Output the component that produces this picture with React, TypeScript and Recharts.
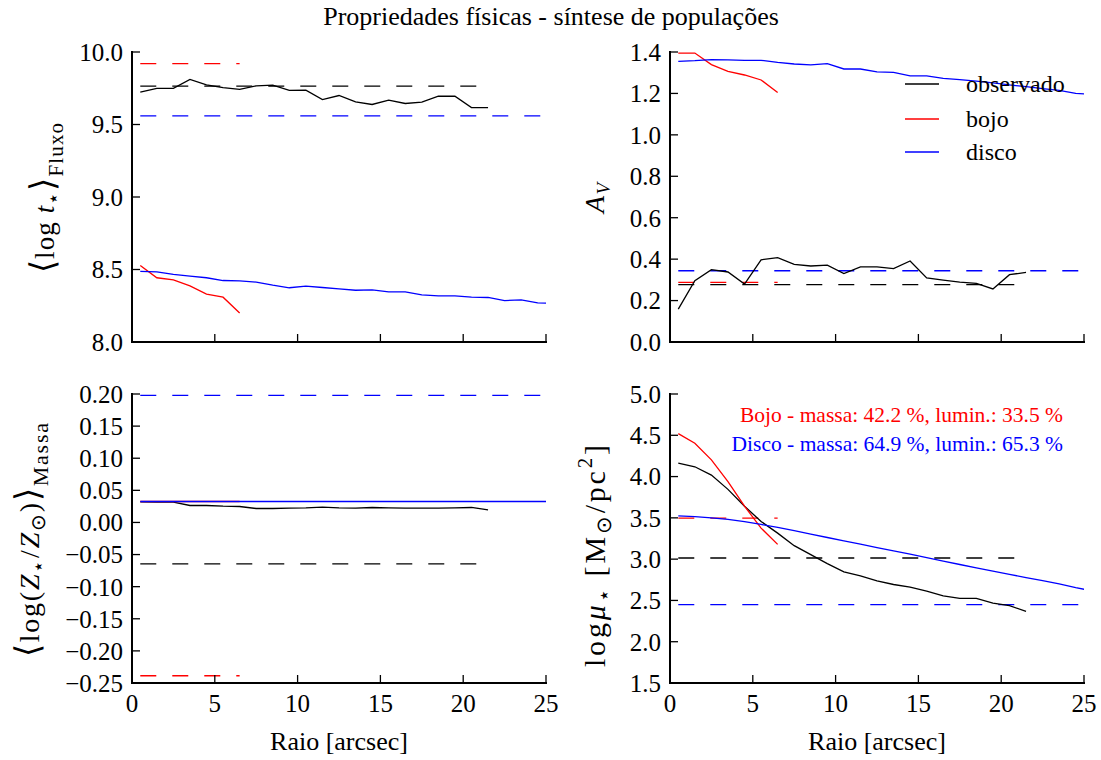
import React from 'react';
import { LineChart, Line, XAxis, YAxis, ReferenceLine } from 'recharts';

const W = 1101;
const H = 760;
const FONT = '"Liberation Serif", "Times New Roman", serif';

// Radius (arcsec) sampling
const radius = [0.5, 1.5, 2.5, 3.5, 4.5, 5.5, 6.5, 7.5, 8.5, 9.5, 10.5, 11.5, 12.5, 13.5, 14.5, 15.5, 16.5, 17.5, 18.5, 19.5, 20.5, 21.5, 22.5, 23.5, 24.5, 25.5];
const xTicks = [0, 5, 10, 15, 20, 25];

// <log t*>_Fluxo
const tObs = [9.723, 9.749, 9.749, 9.811, 9.774, 9.755, 9.742, 9.767, 9.772, 9.735, 9.737, 9.672, 9.700, 9.656, 9.638, 9.668, 9.645, 9.654, 9.695, 9.695, 9.617, 9.617];
const tBojo = [8.528, 8.443, 8.429, 8.387, 8.330, 8.309, 8.200];
const tDisco = [8.487, 8.484, 8.466, 8.454, 8.443, 8.424, 8.422, 8.413, 8.392, 8.374, 8.385, 8.376, 8.367, 8.357, 8.360, 8.346, 8.346, 8.325, 8.318, 8.318, 8.309, 8.307, 8.286, 8.291, 8.270, 8.265];
const tMeans = [9.765, 9.92, 9.56];
const tTicks = [8.0, 8.5, 9.0, 9.5, 10.0];

// A_V
const avObs = [0.159, 0.296, 0.349, 0.338, 0.280, 0.397, 0.407, 0.375, 0.367, 0.371, 0.330, 0.363, 0.363, 0.354, 0.391, 0.309, 0.299, 0.289, 0.283, 0.256, 0.325, 0.336];
const avBojo = [1.395, 1.395, 1.339, 1.307, 1.289, 1.265, 1.204];
const avDisco = [1.355, 1.358, 1.363, 1.362, 1.360, 1.360, 1.350, 1.342, 1.338, 1.344, 1.318, 1.318, 1.304, 1.302, 1.285, 1.285, 1.273, 1.267, 1.259, 1.251, 1.241, 1.233, 1.223, 1.215, 1.200, 1.195];
const avMeans = [0.277, 0.288, 0.344];
const avTicks = [0.0, 0.2, 0.4, 0.6, 0.8, 1.0, 1.2, 1.4];

// <log(Z*/Zsun)>_Massa
const zObs = [0.0321, 0.0316, 0.0316, 0.0264, 0.0264, 0.0253, 0.0248, 0.0217, 0.0217, 0.0222, 0.0227, 0.0238, 0.0227, 0.0222, 0.0233, 0.0227, 0.0222, 0.0222, 0.0222, 0.0227, 0.0233, 0.0196];
const zBojo = [0.0326, 0.0326, 0.0326, 0.0326, 0.0326, 0.0326, 0.0326];
const zDisco = [0.0326, 0.0326, 0.0326, 0.0326, 0.0326, 0.0326, 0.0326, 0.0326, 0.0326, 0.0326, 0.0326, 0.0326, 0.0326, 0.0326, 0.0326, 0.0326, 0.0326, 0.0326, 0.0326, 0.0326, 0.0326, 0.0326, 0.0326, 0.0326, 0.0326, 0.0326];
const zMeans = [-0.0646, -0.2387, 0.198];
const zTicks = [-0.25, -0.2, -0.15, -0.1, -0.05, 0, 0.05, 0.1, 0.15, 0.2];

// log mu*
const muObs = [4.163, 4.119, 4.018, 3.845, 3.641, 3.456, 3.315, 3.163, 3.054, 2.946, 2.845, 2.797, 2.737, 2.693, 2.661, 2.612, 2.556, 2.524, 2.524, 2.468, 2.436, 2.368];
const muBojo = [4.520, 4.404, 4.203, 3.938, 3.641, 3.376, 3.179];
const muDisco = [3.524, 3.515, 3.500, 3.482, 3.455, 3.420, 3.385, 3.345, 3.303, 3.262, 3.222, 3.182, 3.140, 3.100, 3.060, 3.018, 2.975, 2.935, 2.895, 2.855, 2.815, 2.777, 2.740, 2.700, 2.655, 2.615];
const muMeans = [3.014, 3.496, 2.448];
const muTicks = [1.5, 2.0, 2.5, 3.0, 3.5, 4.0, 4.5, 5.0];

const COLORS = ['#000000', '#ff0000', '#0000ff'];
const SPAN_END = [21.5, 6.5, 25];

type PanelProps = {
  x0: number; x1: number; y0: number; y1: number;
  obs: number[]; bojo: number[]; disco: number[];
  means: number[];
  yDomain: [number, number]; yTicks: number[]; digits: number; xLabels: boolean;
};

const LW = 80;
const BH = 50;
const axisLine = { stroke: '#000', strokeWidth: 2, strokeLinecap: 'square' as const };
const tickLine = { stroke: '#000', strokeWidth: 1.3 };
const tickStyle = { fill: '#000', fontSize: 25, fontFamily: FONT };

function Panel(p: PanelProps) {
  const rows = radius.map((r, i) => ({ r, obs: p.obs[i], bojo: p.bojo[i], disco: p.disco[i] }));
  const fmtY = (v: number) => Number(v).toFixed(p.digits).replace('-', '\u2212');
  const empty = () => '';
  return (
    <div style={{ position: 'absolute', left: 0, top: 0, fontFamily: FONT }}>
      <LineChart width={W} height={H} data={rows} style={{ fontFamily: FONT }}
        margin={{ top: p.y0, left: p.x0 - LW, right: W - p.x1, bottom: H - p.y1 - BH }}>
        <XAxis xAxisId="b" dataKey="r" type="number" domain={[0, 25]} ticks={xTicks} allowDataOverflow
          height={BH} tickSize={-8} tickMargin={19} interval={0} axisLine={axisLine} tickLine={tickLine}
          tick={tickStyle} tickFormatter={p.xLabels ? (v: number) => String(v) : empty} />
        <XAxis xAxisId="t" orientation="top" dataKey="r" type="number" domain={[0, 25]} ticks={xTicks} allowDataOverflow
          height={0} tickSize={-8} interval={0} axisLine={axisLine} tickLine={tickLine} tick={tickStyle} tickFormatter={empty} />
        <YAxis yAxisId="l" type="number" domain={p.yDomain} ticks={p.yTicks} allowDataOverflow width={LW}
          tickSize={-8} tickMargin={17} interval={0} axisLine={axisLine} tickLine={tickLine} tick={tickStyle} tickFormatter={fmtY} />
        <YAxis yAxisId="r" orientation="right" type="number" domain={p.yDomain} ticks={p.yTicks} allowDataOverflow width={0}
          tickSize={-8} interval={0} axisLine={axisLine} tickLine={tickLine} tick={tickStyle} tickFormatter={empty} />
        {p.means.map((m, i) => (
          <ReferenceLine key={'m' + i} xAxisId="b" yAxisId="l" ifOverflow="visible"
            segment={[{ x: 0.5, y: m }, { x: SPAN_END[i], y: m }]}
            stroke={COLORS[i]} strokeWidth={1.3} strokeDasharray="16 16" />
        ))}
        <Line xAxisId="b" yAxisId="l" dataKey="obs" stroke={COLORS[0]} strokeWidth={1.3} dot={false} activeDot={false} isAnimationActive={false} type="linear" />
        <Line xAxisId="b" yAxisId="l" dataKey="bojo" stroke={COLORS[1]} strokeWidth={1.3} dot={false} activeDot={false} isAnimationActive={false} type="linear" />
        <Line xAxisId="b" yAxisId="l" dataKey="disco" stroke={COLORS[2]} strokeWidth={1.3} dot={false} activeDot={false} isAnimationActive={false} type="linear" />
      </LineChart>
    </div>
  );
}

const legendItems = ['observado', 'bojo', 'disco'];
const legendY = [84, 119, 152];

export default function App() {
  return (
    <div style={{ position: 'absolute', left: 0, top: 0, width: W, height: H, background: '#fff', fontFamily: FONT }}>
      <Panel x0={132} x1={546} y0={52} y1={342} obs={tObs} bojo={tBojo} disco={tDisco} means={tMeans}
        yDomain={[8, 10]} yTicks={tTicks} digits={1} xLabels={false} />
      <Panel x0={670} x1={1084} y0={52} y1={342} obs={avObs} bojo={avBojo} disco={avDisco} means={avMeans}
        yDomain={[0, 1.4]} yTicks={avTicks} digits={1} xLabels={false} />
      <Panel x0={132} x1={546} y0={394} y1={683} obs={zObs} bojo={zBojo} disco={zDisco} means={zMeans}
        yDomain={[-0.25, 0.2]} yTicks={zTicks} digits={2} xLabels={true} />
      <Panel x0={670} x1={1084} y0={394} y1={683} obs={muObs} bojo={muBojo} disco={muDisco} means={muMeans}
        yDomain={[1.5, 5]} yTicks={muTicks} digits={1} xLabels={true} />
      <svg width={W} height={H} style={{ position: 'absolute', left: 0, top: 0 }} fontFamily={FONT} fill="#000">
        <text x={551} y={25} fontSize={26} textAnchor="middle">Propriedades físicas - síntese de populações</text>
        {legendItems.map((t, i) => (
          <g key={t}>
            <line x1={905} x2={939} y1={legendY[i]} y2={legendY[i]} stroke={COLORS[i]} strokeWidth={1.3} />
            <text x={966} y={legendY[i] + 8} fontSize={24}>{t}</text>
          </g>
        ))}
        <text x={1063} y={422} fontSize={21.5} textAnchor="end" fill="#ff0000">Bojo - massa: 42.2 %, lumin.: 33.5 %</text>
        <text x={1063} y={451} fontSize={21.5} textAnchor="end" fill="#0000ff">Disco - massa: 64.9 %, lumin.: 65.3 %</text>
        <text x={339} y={750} fontSize={26} textAnchor="middle">Raio [arcsec]</text>
        <text x={877} y={750} fontSize={26} textAnchor="middle">Raio [arcsec]</text>
        <text transform="translate(54,273) rotate(-90)" fontSize={27} textLength={150} lengthAdjust="spacing">
          <tspan fontSize={34}>⟨</tspan><tspan>log </tspan><tspan fontStyle="italic">t</tspan>
          <tspan dy={6} fontSize={20}>⋆</tspan><tspan dy={-6} fontSize={34}>⟩</tspan>
          <tspan dy={9} fontSize={21}>Fluxo</tspan>
        </text>
        <text transform="translate(604,213) rotate(-90)" fontSize={28} textLength={30} lengthAdjust="spacing">
          <tspan fontStyle="italic">A</tspan><tspan dy={6} fontSize={19} fontStyle="italic">V</tspan>
        </text>
        <text transform="translate(39,657) rotate(-90)" fontSize={28} textLength={234} lengthAdjust="spacing">
          <tspan fontSize={34}>⟨</tspan><tspan>log(</tspan><tspan fontStyle="italic">Z</tspan>
          <tspan dy={6} fontSize={20}>⋆</tspan><tspan dy={-6}>/</tspan><tspan fontStyle="italic">Z</tspan>
          <tspan dy={6} fontSize={20}>⊙</tspan><tspan dy={-6}>)</tspan><tspan fontSize={34}>⟩</tspan>
          <tspan dy={9} fontSize={22}>Massa</tspan>
        </text>
        <text transform="translate(605,667) rotate(-90)" fontSize={30} textLength={222} lengthAdjust="spacing">
          <tspan>log</tspan><tspan fontStyle="italic">μ</tspan>
          <tspan dy={6} fontSize={21}>⋆</tspan><tspan dy={-6}> [M</tspan>
          <tspan dy={6} fontSize={21}>⊙</tspan><tspan dy={-6}>/pc</tspan>
          <tspan dy={-13} fontSize={21}>2</tspan><tspan dy={13}>]</tspan>
        </text>
      </svg>
    </div>
  );
}
